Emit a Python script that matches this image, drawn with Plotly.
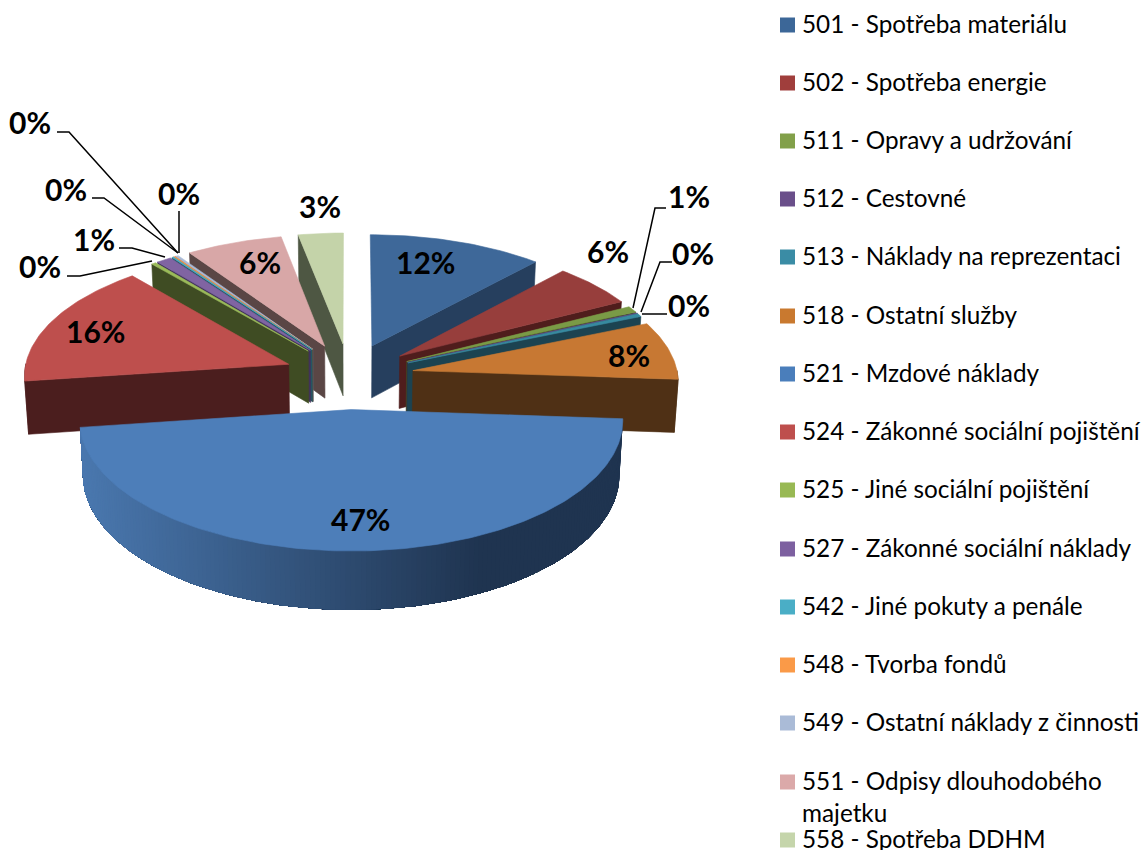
import math
import plotly.graph_objects as go

# ---- data (share of total, %) ----
categories = ["501 - Spotřeba materiálu", "502 - Spotřeba energie", "511 - Opravy a udržování",
              "512 - Cestovné", "513 - Náklady na reprezentaci", "518 - Ostatní služby",
              "521 - Mzdové náklady", "524 - Zákonné sociální pojištění", "525 - Jiné sociální pojištění",
              "527 - Zákonné sociální náklady", "542 - Jiné pokuty a penále", "548 - Tvorba fondů",
              "549 - Ostatní náklady z činnosti", "551 - Odpisy dlouhodobého<br>majetku", "558 - Spotřeba DDHM"]
values = [11.7, 5.6, 0.8, 0.1, 0.4, 7.5, 46.7, 16.0, 0.3, 1.0, 0.1, 0.1, 0.2, 6.45, 3.0]

# ---- styles ----
top_colors = ["#3E6899", "#973E3C", "#7A9A46", "#66508A", "#378A9F", "#C77833", "#4D7EB9", "#BE4F4D",
              "#9BBB59", "#8064A2", "#4BACC6", "#F79646", "#AABAD7", "#D8A7A7", "#C4D3A9"]
wall_colors = ["#263F5E", "#4F1D1C", "#3E4D24", "#342847", "#1C4351", "#4F3015", "#1F3450", "#4B1E1E",
               "#3F4C23", "#42325A", "#235664", "#7F4C22", "#566070", "#5A4645", "#4E5743"]
legend_colors = ["#3C6798", "#A03E3C", "#82A04A", "#6A4F8A", "#3A8CA5", "#C9792F", "#4A7EBB", "#BE4F4D",
                 "#98B954", "#7D60A0", "#4AAEC6", "#FA9A48", "#AABBD7", "#DBA9A9", "#C5D5AB"]

CX, CY, R, EXPL_X, EXPL_Y, TILT, PERSP, DEPTH, TAPER = 349, 376, 265, 65, 70, 0.47, 0.0003, 53, 0.012
FONT = "Lato"


def project(X, Y, z=0.0):
    s = 1 / (1 - PERSP * Y)
    return (CX + X * s * (1 - TAPER * z), CY + Y * TILT * s + z * DEPTH * s)


def lerp_hex(a, b, t):
    ca = [int(a[i:i + 2], 16) for i in (1, 3, 5)]
    cb = [int(b[i:i + 2], 16) for i in (1, 3, 5)]
    return "rgb(%d,%d,%d)" % tuple(round(p + (q - p) * t) for p, q in zip(ca, cb))


fig = go.Figure()


def poly(points, color, lw=0.6):
    xs = [p[0] for p in points] + [points[0][0]]
    ys = [p[1] for p in points] + [points[0][1]]
    fig.add_trace(go.Scatter(x=xs, y=ys, mode="lines", fill="toself", fillcolor=color,
                             line=dict(color=color, width=lw), hoverinfo="skip", showlegend=False))


total = sum(values)
slices = []
acc = 0.0
for i, v in enumerate(values):
    a0 = acc / total * 2 * math.pi
    acc += v
    a1 = acc / total * 2 * math.pi
    slices.append((i, a0, a1))

slices.sort(key=lambda q: -math.cos((q[1] + q[2]) / 2))

for i, a0, a1 in slices:
    mid = (a0 + a1) / 2
    ox, oy = EXPL_X * math.sin(mid), -EXPL_Y * math.cos(mid)
    n = max(2, int((a1 - a0) / math.radians(1.0)))
    angles = [a0 + (a1 - a0) * k / n for k in range(n + 1)]
    rim = [(ox + R * math.sin(a), oy - R * math.cos(a)) for a in angles]

    # radial walls
    if math.sin(a0) < 0:
        p = rim[0]
        poly([project(ox, oy), project(*p), project(*p, 1), project(ox, oy, 1)], wall_colors[i])
    if math.sin(a1) > 0:
        p = rim[-1]
        poly([project(ox, oy), project(*p), project(*p, 1), project(ox, oy, 1)], wall_colors[i])
    # outer wall: each piece runs on to the far end and the next piece paints over that run
    visible = [k for k in range(n) if -math.cos((angles[k] + angles[k + 1]) / 2) > 0]
    if visible:
        if values[i] > 40:
            for k in visible:
                run = rim[k:visible[-1] + 2]
                pts = [project(*q) for q in run] + [project(*q, 1) for q in reversed(run)]
                xm = (project(*rim[k])[0] + project(*rim[k + 1])[0]) / 2
                poly(pts, lerp_hex("#4A78AF", "#1F3450", min(1, max(0, (xm - 80) / 400))), lw=0)
        else:
            run = rim[visible[0]:visible[-1] + 2]
            poly([project(*q) for q in run] + [project(*q, 1) for q in reversed(run)], wall_colors[i])
    # top face
    poly([project(ox, oy)] + [project(*p) for p in rim], top_colors[i])

# ---- data labels and leader lines ----
label_pos = [(425, 263), (608, 252), (689, 197), (693, 254), (689, 306), (629, 356), (360, 520), (95, 332),
             (40, 267), (94, 240), (66, 190), (30, 123), (179, 194), (260, 263), (320, 207)]
leaders = [
    [(666, 208), (655, 208), (633, 308)],
    [(672, 262), (660, 262), (641, 312)],
    [(667, 314), (642, 314)],
    [(67, 276), (80, 276), (152, 261)],
    [(119, 248), (132, 248), (165, 257)],
    [(92, 198), (104, 198), (178, 253)],
    [(57, 132), (69, 132), (178, 253)],
    [(179, 211), (179, 253)],
]
for line in leaders:
    fig.add_trace(go.Scatter(x=[p[0] for p in line], y=[p[1] for p in line], mode="lines",
                             line=dict(color="black", width=1.5), hoverinfo="skip", showlegend=False))

annotations = []
for v, (x, y) in zip(values, label_pos):
    annotations.append(dict(x=x, y=y - 1, xref="x", yref="y", text=f"<b>{round(v)}%</b>", showarrow=False,
                            xanchor="center", yanchor="middle", font=dict(family=FONT, size=30, color="black")))

# ---- legend ----
legend_y = [25, 83, 141, 199, 257, 316, 374, 432, 490, 549, 607, 665, 723, 782, 840]
shapes = []
for name, color, y in zip(categories, legend_colors, legend_y):
    shapes.append(dict(type="rect", xref="x", yref="y", x0=780, x1=795, y0=y - 7.5, y1=y + 7.5,
                       fillcolor=color, line=dict(width=0)))
    annotations.append(dict(x=799.5, y=(y + 14.5 if "<br>" in name else y - 1.5), xref="x", yref="y", text=name,
                            showarrow=False, xanchor="left", yanchor="middle", align="left",
                            font=dict(family=FONT, size=24.3, color="black")))

fig.update_layout(
    width=1143, height=850, margin=dict(l=0, r=0, t=0, b=0),
    paper_bgcolor="white", plot_bgcolor="white", showlegend=False,
    xaxis=dict(range=[0, 1143], visible=False, fixedrange=True),
    yaxis=dict(range=[850, 0], visible=False, fixedrange=True),
    annotations=annotations, shapes=shapes,
)
fig.write_html("out.html", config=dict(displayModeBar=False),
               post_script="document.body.style.margin='0';document.body.style.overflow='hidden';")
